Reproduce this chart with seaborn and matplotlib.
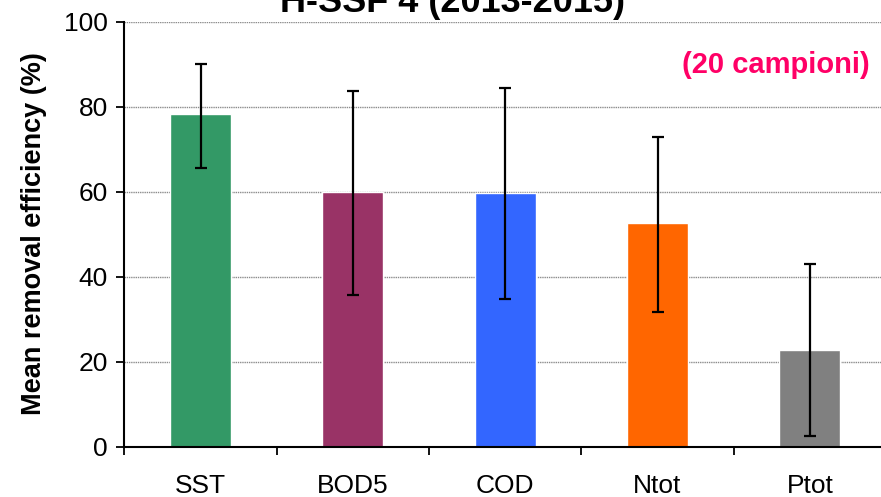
import matplotlib
matplotlib.use("Agg")
import matplotlib.pyplot as plt
import numpy as np
import pandas as pd
import seaborn as sns

sns.set_style("white", {"xtick.bottom": True, "ytick.left": True,
                        "text.color": "black", "axes.labelcolor": "black",
                        "xtick.color": "black", "ytick.color": "black"})
plt.rcParams["font.family"] = ["Liberation Sans", "DejaVu Sans"]

# values
categories = ["SST", "BOD5", "COD", "Ntot", "Ptot"]
mean_eff = [78.2, 60.0, 59.6, 52.7, 22.7]
err_high = [90.1, 83.6, 84.4, 72.9, 42.9]
err_low = [65.6, 35.6, 34.8, 31.6, 2.5]
colors = ["#339966", "#993366", "#3366FF", "#FF6600", "#808080"]
yticks = [0, 20, 40, 60, 80, 100]

data = pd.DataFrame({"param": categories, "eff": mean_eff})

fig = plt.figure(figsize=(8.81, 4.97), dpi=100)
ax = fig.add_axes([0.1413, 0.1016, 0.8644, 0.8551])

sns.barplot(
    data=data, x="param", y="eff", hue="param",
    order=categories, palette=colors, width=0.4,
    saturation=1, errorbar=None, legend=False, ax=ax, zorder=2
)

pos = np.arange(len(categories))
means = np.array(mean_eff)
yerr = [means - np.array(err_low), np.array(err_high) - means]
ax.errorbar(pos, means, yerr=yerr, fmt="none", ecolor="black",
            elinewidth=1.6, capsize=4.5, capthick=1.6, zorder=3)

ax.set_xlim(-0.5, len(categories) - 0.5)
ax.set_ylim(0, 100)
ax.set_yticks(yticks)
ax.yaxis.grid(True, color="#8c8c8c", linestyle=(0, (1, 0.6)), linewidth=1.0)
ax.set_axisbelow(True)

# category ticks sit between the bars, labels centred under bars
ax.set_xticks(pos)
ax.set_xticklabels(categories, fontsize=19, color="black")
ax.tick_params(axis="x", which="major", bottom=True, length=0, pad=20)
ax.set_xticks(np.arange(-0.5, len(categories), 1), minor=True)
ax.tick_params(axis="x", which="minor", bottom=True, length=6, width=1.3,
               direction="out", color="black")
ax.tick_params(axis="y", left=True, length=6, width=1.3, direction="out",
               color="black", labelcolor="black", labelsize=19, pad=6)

for side in ["top", "right"]:
    ax.spines[side].set_visible(False)
for side in ["left", "bottom"]:
    ax.spines[side].set_color("black")
    ax.spines[side].set_linewidth(1.5)

ax.set_xlabel("")
ax.set_ylabel("Mean removal efficiency (%)", fontsize=19.5,
              fontweight="bold", labelpad=12, color="black")

fig.text(0.987, 0.869, "(20 campioni)", ha="right", va="center",
         color="#FF0066", fontsize=21, fontweight="bold")

fig.text(0.514, 1.0 - 12 / 497, "H-SSF 4 (2013-2015)", ha="center",
         va="baseline", fontsize=26, fontweight="bold", color="black")

fig.savefig("out.png", dpi=100)
